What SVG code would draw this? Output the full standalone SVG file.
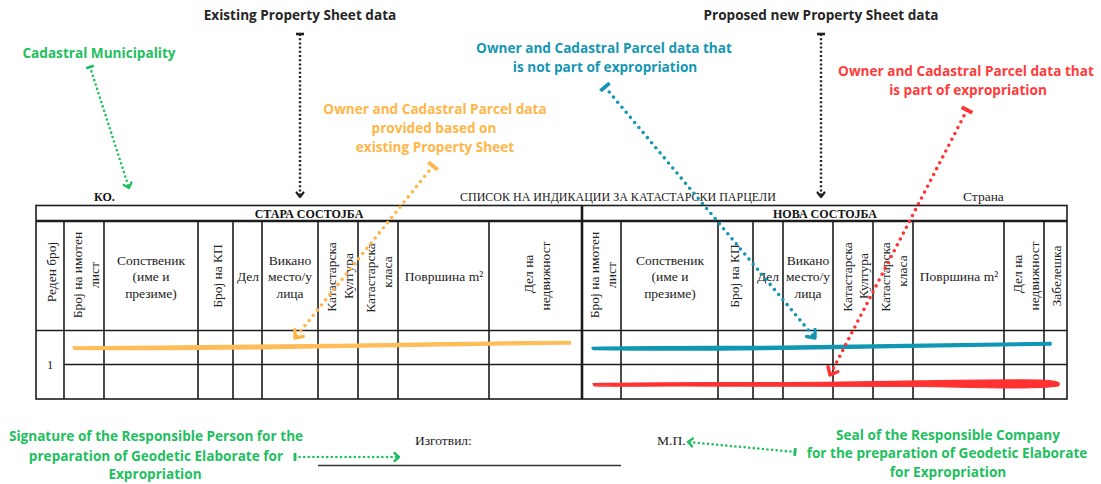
<svg xmlns="http://www.w3.org/2000/svg" width="1101" height="484" viewBox="0 0 1101 484">
  <style>
    .grid { stroke: #1c1c1c; stroke-width: 1.6; fill: none; }
    .grid-thick { stroke: #1c1c1c; stroke-width: 2.6; fill: none; }
    .cell { font-family: "Liberation Serif", "DejaVu Serif", serif; font-size: 13.5px; fill: #222; }
    .cell-c { text-anchor: middle; }
    .caps { font-family: "Liberation Serif", "DejaVu Serif", serif; font-size: 12px; fill: #222; }
    .capsb { font-family: "Liberation Serif", "DejaVu Serif", serif; font-size: 12px; font-weight: bold; fill: #111; }
    .lbl { font-family: "Open Sans", "Liberation Sans", sans-serif; font-size: 13.6px; font-weight: bold; text-anchor: middle; }
    .c-black { fill: #262626; }
    .c-green { fill: #1fbf5f; }
    .c-orange { fill: #ffb649; }
    .c-teal { fill: #1597b3; }
    .c-red { fill: #ff3b3b; }
    .dots-black { stroke: #222; stroke-width: 2.4; stroke-dasharray: 2 2.2; fill: none; }
    .dots-green { stroke: #1fbf5f; stroke-width: 2.6; stroke-dasharray: 0 4.6; stroke-linecap: round; fill: none; }
    .dots-orange { stroke: #ffb649; stroke-width: 3.6; stroke-dasharray: 0 6.6; stroke-linecap: round; fill: none; }
    .dots-teal { stroke: #1597b3; stroke-width: 3.6; stroke-dasharray: 0 6.6; stroke-linecap: round; fill: none; }
    .dots-red { stroke: #ff3333; stroke-width: 3.6; stroke-dasharray: 0 6.6; stroke-linecap: round; fill: none; }
    .mk { fill: none; stroke-linecap: round; stroke-linejoin: round; }
  </style>
  <defs>
    <!-- chevron heads and flat start caps, one pair per colour -->
    <marker id="head-black" viewBox="0 0 12 12" refX="9" refY="6" markerWidth="12" markerHeight="12" markerUnits="userSpaceOnUse" orient="auto">
      <path class="mk" d="M4.5,2.5 L9,6 L4.5,9.5" stroke="#222" stroke-width="2.2"/>
    </marker>
    <marker id="cap-black" viewBox="0 0 12 12" refX="6" refY="6" markerWidth="12" markerHeight="12" markerUnits="userSpaceOnUse" orient="auto">
      <path d="M6,2 L6,10" stroke="#222" stroke-width="2.6"/>
    </marker>
    <marker id="head-green" viewBox="0 0 12 12" refX="9" refY="6" markerWidth="12" markerHeight="12" markerUnits="userSpaceOnUse" orient="auto">
      <path class="mk" d="M4.5,2 L9,6 L4.5,10" stroke="#1fbf5f" stroke-width="2.4"/>
    </marker>
    <marker id="cap-green" viewBox="0 0 12 12" refX="6" refY="6" markerWidth="12" markerHeight="12" markerUnits="userSpaceOnUse" orient="auto">
      <path d="M6,2 L6,10" stroke="#1fbf5f" stroke-width="2.8"/>
    </marker>
    <marker id="head-orange" viewBox="0 0 16 16" refX="12" refY="8" markerWidth="16" markerHeight="16" markerUnits="userSpaceOnUse" orient="auto">
      <path class="mk" d="M5.5,2.5 L12,8 L5.5,13.5" stroke="#ffb649" stroke-width="3.4"/>
    </marker>
    <marker id="cap-orange" viewBox="0 0 16 16" refX="8" refY="8" markerWidth="16" markerHeight="16" markerUnits="userSpaceOnUse" orient="auto">
      <path d="M8,2 L8,14" stroke="#ffb649" stroke-width="3.8"/>
    </marker>
    <marker id="head-teal" viewBox="0 0 16 16" refX="12" refY="8" markerWidth="16" markerHeight="16" markerUnits="userSpaceOnUse" orient="auto">
      <path class="mk" d="M5.5,2.5 L12,8 L5.5,13.5" stroke="#1597b3" stroke-width="3.4"/>
    </marker>
    <marker id="cap-teal" viewBox="0 0 16 16" refX="8" refY="8" markerWidth="16" markerHeight="16" markerUnits="userSpaceOnUse" orient="auto">
      <path d="M8,2 L8,14" stroke="#1597b3" stroke-width="3.8"/>
    </marker>
    <marker id="head-red" viewBox="0 0 16 16" refX="12" refY="8" markerWidth="16" markerHeight="16" markerUnits="userSpaceOnUse" orient="auto">
      <path class="mk" d="M5.5,2.5 L12,8 L5.5,13.5" stroke="#ff3333" stroke-width="3.4"/>
    </marker>
    <marker id="cap-red" viewBox="0 0 16 16" refX="8" refY="8" markerWidth="16" markerHeight="16" markerUnits="userSpaceOnUse" orient="auto">
      <path d="M8,2 L8,14" stroke="#ff3333" stroke-width="3.8"/>
    </marker>
  </defs>

  <rect width="1101" height="484" fill="#ffffff"/>

  <!-- form title line above the table -->
  <g id="form-title">
    <text class="capsb" x="94" y="201">КО.</text>
    <text class="caps" x="460" y="201">СПИСОК НА ИНДИКАЦИИ ЗА КАТАСТАРСКИ ПАРЦЕЛИ</text>
    <text class="cell" x="963" y="201" font-size="12">Страна</text>
  </g>

  <!-- parcel list table -->
  <g id="table">
    <rect x="36" y="205.5" width="1031" height="193.5" class="grid" stroke-width="3"/>
    <line x1="36" y1="221" x2="1067" y2="221" class="grid-thick"/>
    <line x1="36" y1="330.5" x2="1067" y2="330.5" class="grid" stroke-width="2"/>
    <line x1="64" y1="364.5" x2="1067" y2="364.5" class="grid"/>
    <line x1="582" y1="205" x2="582" y2="399" class="grid-thick"/>
    <g class="grid">
      <line x1="64" y1="221" x2="64" y2="399"/>
      <line x1="104" y1="221" x2="104" y2="399"/>
      <line x1="198" y1="221" x2="198" y2="399"/>
      <line x1="233" y1="221" x2="233" y2="399"/>
      <line x1="262" y1="221" x2="262" y2="399"/>
      <line x1="318" y1="221" x2="318" y2="399"/>
      <line x1="358" y1="221" x2="358" y2="399"/>
      <line x1="398" y1="221" x2="398" y2="399"/>
      <line x1="489" y1="221" x2="489" y2="399"/>
      <line x1="621" y1="221" x2="621" y2="399"/>
      <line x1="718" y1="221" x2="718" y2="399"/>
      <line x1="753" y1="221" x2="753" y2="399"/>
      <line x1="783" y1="221" x2="783" y2="399"/>
      <line x1="833" y1="221" x2="833" y2="399"/>
      <line x1="873" y1="221" x2="873" y2="399"/>
      <line x1="913" y1="221" x2="913" y2="399"/>
      <line x1="1004" y1="221" x2="1004" y2="399"/>
      <line x1="1044" y1="221" x2="1044" y2="399"/>
    </g>

    <text class="capsb" x="309" y="217.5" text-anchor="middle">СТАРА СОСТОЈБА</text>
    <text class="capsb" x="825" y="217.5" text-anchor="middle">НОВА СОСТОЈБА</text>

    <!-- old state column headings -->
    <g class="cell cell-c">
      <text transform="translate(55.5,272) rotate(-90)">Реден број</text>
      <text transform="translate(82,275) rotate(-90)">Број на имотен</text>
      <text transform="translate(98.5,275) rotate(-90)">лист</text>
      <text x="151" y="265">Сопственик</text>
      <text x="151" y="281">(име и</text>
      <text x="151" y="298">презиме)</text>
      <text transform="translate(221.5,276) rotate(-90)">Број на КП</text>
      <text x="248" y="281">Дел</text>
      <text x="290" y="265">Викано</text>
      <text x="290" y="281">место/у</text>
      <text x="290" y="298">лица</text>
      <text transform="translate(336,277) rotate(-90)">Катастарска</text>
      <text transform="translate(352.5,276) rotate(-90)">Култура</text>
      <text transform="translate(374.5,278) rotate(-90)">Катастарска</text>
      <text transform="translate(391.5,272) rotate(-90)">класа</text>
      <text x="444" y="281">Површина m²</text>
      <text transform="translate(532.5,274) rotate(-90)">Дел на</text>
      <text transform="translate(549.5,276) rotate(-90)">недвижност</text>
      <text x="50" y="369" font-size="12.5">1</text>
    </g>

    <!-- new state column headings -->
    <g class="cell cell-c">
      <text transform="translate(599,275) rotate(-90)">Број на имотен</text>
      <text transform="translate(616,275) rotate(-90)">лист</text>
      <text x="670" y="265">Сопственик</text>
      <text x="670" y="281">(име и</text>
      <text x="670" y="298">презиме)</text>
      <text transform="translate(738.5,276) rotate(-90)">Број на КП</text>
      <text x="768" y="281">Дел</text>
      <text x="808" y="265">Викано</text>
      <text x="808" y="281">место/у</text>
      <text x="808" y="298">лица</text>
      <text transform="translate(851.5,277) rotate(-90)">Катастарска</text>
      <text transform="translate(867.5,276) rotate(-90)">Култура</text>
      <text transform="translate(889.5,277) rotate(-90)">Катастарска</text>
      <text transform="translate(906.5,271) rotate(-90)">класа</text>
      <text x="959" y="281">Површина m²</text>
      <text transform="translate(1021.5,274) rotate(-90)">Дел на</text>
      <text transform="translate(1038.5,276) rotate(-90)">недвижност</text>
      <text transform="translate(1060.5,276) rotate(-90)">Забелешка</text>
    </g>
  </g>

  <!-- marker-pen highlights across the first record -->
  <g id="highlights">
    <path d="M73,347 C150,346 250,345.5 330,344.5 C430,343 500,341.5 570,341.5 L570.5,344 C500,344.5 430,346 330,347.5 C250,349 150,350 74,349.2 Z" fill="#ffbd59" stroke="#ffbd59" stroke-width="1.4" stroke-linejoin="round"/>
    <path d="M592,347.5 C660,346 740,347 800,346 C880,345 960,343.5 1051,342.5 L1051,345 C960,346 880,347.5 800,349 C740,350 660,350.5 593,349.5 Z" fill="#0f97b3" stroke="#0f97b3" stroke-width="1.4" stroke-linejoin="round"/>
    <path d="M593,383.5 C680,382 760,383 840,382 C920,381 990,379.5 1040,380 C1058,380.5 1062,383 1058,386 C1040,389 990,388 920,386.5 C840,386 760,386.5 680,386 C640,386 610,386.5 594,385.8 Z" fill="#ff3131" stroke="#ff3131" stroke-width="1.2" stroke-linejoin="round"/>
  </g>

  <!-- callout labels -->
  <g id="label-existing">
    <text class="lbl c-black" x="300" y="20">Existing Property Sheet data</text>
  </g>
  <g id="label-proposed">
    <text class="lbl c-black" x="821" y="20">Proposed new Property Sheet data</text>
  </g>
  <g id="label-municipality">
    <text class="lbl c-green" x="99" y="58">Cadastral Municipality</text>
  </g>
  <g id="label-provided">
    <text class="lbl c-orange" x="435" y="114">Owner and Cadastral Parcel data</text>
    <text class="lbl c-orange" x="434" y="133">provided based on</text>
    <text class="lbl c-orange" x="435" y="152">existing Property Sheet</text>
  </g>
  <g id="label-not-expropriated">
    <text class="lbl c-teal" x="604" y="53">Owner and Cadastral Parcel data that</text>
    <text class="lbl c-teal" x="605" y="72">is not part of expropriation</text>
  </g>
  <g id="label-expropriated">
    <text class="lbl c-red" x="966" y="76">Owner and Cadastral Parcel data that</text>
    <text class="lbl c-red" x="968" y="95">is part of expropriation</text>
  </g>
  <g id="label-signature">
    <text class="lbl c-green" x="156" y="441">Signature of the Responsible Person for the</text>
    <text class="lbl c-green" x="156" y="461">preparation of Geodetic Elaborate for</text>
    <text class="lbl c-green" x="155" y="479">Expropriation</text>
  </g>
  <g id="label-seal">
    <text class="lbl c-green" x="948" y="440">Seal of the Responsible Company</text>
    <text class="lbl c-green" x="947" y="458">for the preparation of Geodetic Elaborate</text>
    <text class="lbl c-green" x="948" y="477">for Expropriation</text>
  </g>

  <!-- signature block of the form -->
  <g id="form-footer">
    <text class="cell" x="415" y="445" font-size="12">Изготвил:</text>
    <line x1="318" y1="465.5" x2="621" y2="465.5" stroke="#333" stroke-width="1.3"/>
    <text class="cell" x="657" y="445" font-size="12">М.П.</text>
  </g>

  <!-- dotted pointer connectors -->
  <g id="connectors">
    <line class="dots-black" x1="300" y1="34" x2="300" y2="197" marker-start="url(#cap-black)" marker-end="url(#head-black)"/>
    <line class="dots-black" x1="821" y1="34" x2="821" y2="197" marker-start="url(#cap-black)" marker-end="url(#head-black)"/>
    <line class="dots-green" x1="90" y1="67" x2="129" y2="188" marker-start="url(#cap-green)" marker-end="url(#head-green)"/>
    <line class="dots-orange" x1="433" y1="166" x2="295" y2="338" marker-start="url(#cap-orange)" marker-end="url(#head-orange)"/>
    <line class="dots-teal" x1="605" y1="87" x2="815" y2="338" marker-start="url(#cap-teal)" marker-end="url(#head-teal)"/>
    <line class="dots-red" x1="967" y1="110" x2="830" y2="375" marker-start="url(#cap-red)" marker-end="url(#head-red)"/>
    <line class="dots-green" x1="295" y1="457" x2="399" y2="457" marker-start="url(#cap-green)" marker-end="url(#head-green)"/>
    <line class="dots-green" x1="795" y1="452" x2="688" y2="442" marker-start="url(#cap-green)" marker-end="url(#head-green)"/>
  </g>
</svg>
